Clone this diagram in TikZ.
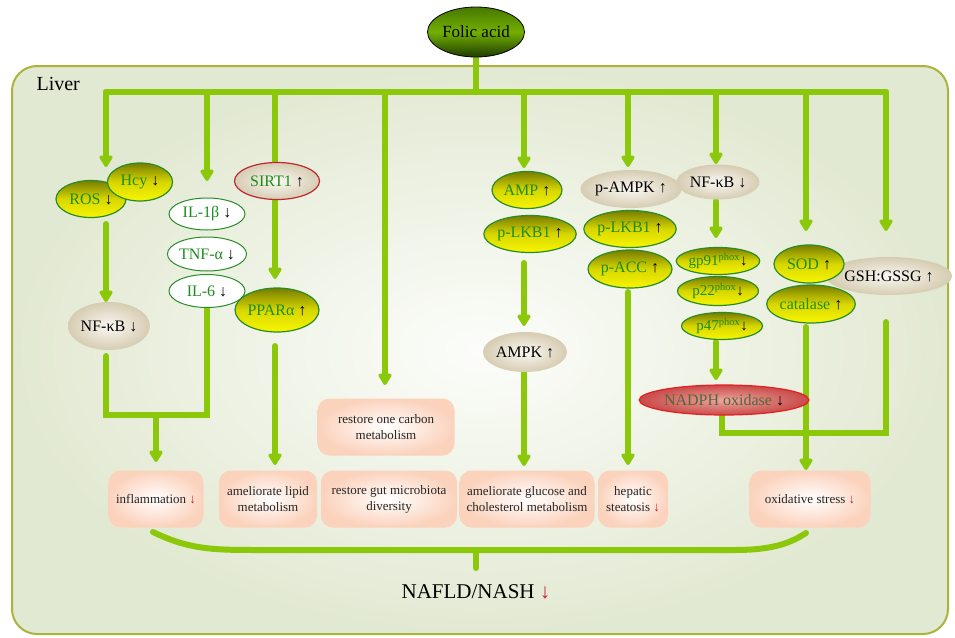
\documentclass[tikz,border=0pt]{standalone}
\usepackage{fontspec}
\setmainfont{Liberation Serif}
\usetikzlibrary{shapes.geometric,arrows.meta}
\pgfdeclarelayer{bg}
\pgfdeclarelayer{lines}
\pgfsetlayers{bg,lines,main}
\definecolor{lg}{RGB}{140,200,10}
\definecolor{gtext}{RGB}{30,140,30}
\definecolor{gborder}{RGB}{40,140,40}
\definecolor{redarrow}{RGB}{200,30,50}
\definecolor{ytop}{RGB}{120,125,0}
\definecolor{ymid}{RGB}{215,215,0}
\definecolor{ybot}{RGB}{248,245,0}
\definecolor{beigein}{RGB}{250,248,242}
\definecolor{beigeout}{RGB}{214,204,178}
\definecolor{peach}{RGB}{251,210,188}
\definecolor{sirtred}{RGB}{190,40,50}
\definecolor{liverin}{RGB}{252,253,250}
\definecolor{liverout}{RGB}{226,233,210}
\definecolor{liverborder}{RGB}{170,180,60}
\definecolor{ftop}{RGB}{70,120,0}
\definecolor{fmid}{RGB}{115,175,0}
\definecolor{fbot}{RGB}{30,60,0}
\definecolor{nadin}{RGB}{238,165,155}
\definecolor{nadout}{RGB}{200,75,75}
\definecolor{nadtext}{RGB}{75,105,65}
\newcommand\dnar{\textcolor{black}{↓}}
\newcommand\upar{\textcolor{black}{↑}}
\newcommand\rdnar{\textcolor{redarrow}{↓}}
\tikzset{
  ell/.style={ellipse, inner sep=0pt, font=\fontsize{16}{18}\selectfont},
  yel/.style={ell, draw=gborder, line width=1.2pt, top color=ytop, bottom color=ybot, middle color=ymid, text=gtext},
  bei/.style={ell, inner color=beigein, outer color=beigeout, text=black},
  whi/.style={ell, draw=gborder, fill=white, line width=1pt, text=gtext},
  pbox/.style={rectangle, rounded corners=12pt, inner color=white, outer color=peach, align=center, font=\fontsize{13}{16}\selectfont, inner sep=0pt, text=black!85},
  conn/.style={draw=lg, line width=6pt, line cap=round},
  arr/.style={conn, -{Triangle[width=15pt,length=13pt,round]}}
}
\begin{document}
\begin{tikzpicture}[x=1pt,y=-1pt]
\useasboundingbox (0,0) rectangle (955,637);
\begin{pgfonlayer}{bg}
\draw[liverborder, line width=2pt, rounded corners=25pt, inner color=liverin, outer color=liverout] (12,66) rectangle (948,634);
\end{pgfonlayer}
\node[anchor=west, font=\fontsize{20}{22}\selectfont] (liver) at (33,84) {Liver};
% top
\node[ell, draw=black, line width=0.8pt, top color=ftop, bottom color=fbot, middle color=fmid, minimum width=97pt, minimum height=50pt, font=\fontsize{17}{19}\selectfont] (folic) at (476,32) {Folic acid};
% left column
\node[yel, minimum width=70pt, minimum height=37pt] (ros) at (91,199) {ROS \dnar};
\node[yel, minimum width=65pt, minimum height=38pt] (hcy) at (140,182) {Hcy \dnar};
\node[bei, minimum width=82pt, minimum height=48pt] (nfk1) at (109,326) {NF-κB \dnar};
\node[whi, minimum width=76pt, minimum height=32pt] (il1) at (207,214) {IL-1β \dnar};
\node[whi, minimum width=76pt, minimum height=34pt] (tnf) at (207,254) {TNF-α \dnar};
\node[whi, minimum width=76pt, minimum height=33pt] (il6) at (207,291) {IL-6 \dnar};
\node[bei, draw=sirtred, line width=1.2pt, text=gtext, minimum width=85pt, minimum height=37pt] (sirt) at (277,181) {SIRT1 \upar};
\node[yel, minimum width=84pt, minimum height=44pt] (ppar) at (277,310) {PPARα \upar};
% middle
\node[yel, minimum width=70pt, minimum height=37pt] (amp) at (527,190) {AMP \upar};
\node[yel, minimum width=83pt, minimum height=37pt] (lkba) at (530,234) {p-LKB1 \upar};
\node[bei, minimum width=84pt, minimum height=40pt] (ampk) at (525,352) {AMPK \upar};
\node[bei, minimum width=94pt, minimum height=38pt] (pampk) at (631,189) {p-AMPK \upar};
\node[yel, minimum width=84pt, minimum height=37pt] (lkbb) at (630,229) {p-LKB1 \upar};
\node[yel, minimum width=84pt, minimum height=38pt] (acc) at (630,269) {p-ACC \upar};
% right
\node[bei, minimum width=83pt, minimum height=35pt] (nfk2) at (718,182) {NF-κB \dnar};
\node[yel, minimum width=83pt, minimum height=27pt, font=\fontsize{15}{17}\selectfont] (gp91) at (718,261) {gp91\textsuperscript{phox}\dnar};
\node[yel, minimum width=81pt, minimum height=29pt, font=\fontsize{15}{17}\selectfont] (p22) at (718,291) {p22\textsuperscript{phox}\dnar};
\node[yel, minimum width=81pt, minimum height=27pt, font=\fontsize{15}{17}\selectfont] (p47) at (722,326) {p47\textsuperscript{phox}\dnar};
\node[ell, draw={rgb,255:red,230;green,30;blue,30}, line width=1.2pt, inner color=nadin, outer color=nadout, text=nadtext, minimum width=154pt, minimum height=30pt] (nadph) at (724,400) {NADPH oxidase \dnar};
\node[bei, minimum width=98pt, minimum height=38pt] (gsh) at (889,276) {GSH:GSSG \upar};
\node[yel, minimum width=70pt, minimum height=38pt] (sod) at (809,264) {SOD \upar};
\node[yel, minimum width=84pt, minimum height=38pt] (cat) at (811,304) {catalase \upar};
% boxes
\node[pbox, minimum width=137pt, minimum height=57pt] (carbon) at (386,427) {restore one carbon\\metabolism};
\node[pbox, minimum width=95pt, minimum height=57pt] (infl) at (156,499) {inflammation \rdnar};
\node[pbox, minimum width=98pt, minimum height=57pt] (lipid) at (268,499) {ameliorate lipid\\metabolism};
\node[pbox, minimum width=136pt, minimum height=57pt] (gut) at (389,499) {restore gut microbiota\\diversity};
\node[pbox, minimum width=135pt, minimum height=57pt] (gluc) at (527,499) {ameliorate glucose and\\cholesterol metabolism};
\node[pbox, minimum width=70pt, minimum height=57pt] (hep) at (633,499) {hepatic\\steatosis \rdnar};
\node[pbox, minimum width=121pt, minimum height=57pt] (ox) at (810,499) {oxidative stress \rdnar};
\node[font=\fontsize{21}{24}\selectfont] (nafld) at (476,592) {NAFLD/NASH \rdnar};
% coordinates
\path (476,92) coordinate (kc)
  (106,92) coordinate (k1) (106,167) coordinate (e1)
  (207,92) coordinate (k2) (207,181) coordinate (e2)
  (275,92) coordinate (k3)
  (385,92) coordinate (k4) (385,385) coordinate (e4)
  (524,92) coordinate (k5) (524,168) coordinate (e5)
  (628,92) coordinate (k6) (628,167) coordinate (e6)
  (716,92) coordinate (k7) (716,164) coordinate (e7)
  (806,92) coordinate (k8) (806,231) coordinate (e8)
  (886,92) coordinate (k9) (886,231) coordinate (e9)
  (106,224) coordinate (r1) (106,302) coordinate (r2)
  (106,356) coordinate (n1) (106,415) coordinate (n2) (207,415) coordinate (n3) (207,308) coordinate (n4)
  (156,415) coordinate (m1) (156,462) coordinate (m2)
  (275,200) coordinate (s1) (275,279) coordinate (s2)
  (275,346) coordinate (s3) (275,465) coordinate (s4)
  (524,263) coordinate (a1) (524,326) coordinate (a2)
  (524,373) coordinate (a3) (524,466) coordinate (a4)
  (628,292) coordinate (c1) (628,465) coordinate (c2)
  (716,201) coordinate (g1) (716,238) coordinate (g2)
  (716,342) coordinate (g3) (716,380) coordinate (g4)
  (722,416) coordinate (h1) (722,433) coordinate (h2) (886,433) coordinate (h3) (886,322) coordinate (h4)
  (806,327) coordinate (o1) (806,470) coordinate (o2)
  (153,532) coordinate (b1) (260,550) coordinate (b2) (735,550) coordinate (b3) (806,533) coordinate (b4)
  (476,550) coordinate (q1) (476,568) coordinate (q2);
\begin{pgfonlayer}{lines}
\draw[conn] (folic.south) -- (kc);
\draw[conn] (k1) -- (k9);
\draw[arr] (k1) -- (e1);
\draw[arr] (k2) -- (e2);
\draw[conn] (k3) -- (k3 |- sirt.north);
\draw[arr] (k4) -- (e4);
\draw[arr] (k5) -- (e5);
\draw[arr] (k6) -- (e6);
\draw[arr] (k7) -- (e7);
\draw[arr] (k8) -- (e8);
\draw[arr] (k9) -- (e9);
\draw[arr] (r1) -- (r2);
\draw[conn, line join=miter] (n1) -- (n2) -- (n3) -- (n4);
\draw[arr] (m1) -- (m2);
\draw[arr] (s1) -- (s2);
\draw[arr] (s3) -- (s4);
\draw[arr] (a1) -- (a2);
\draw[arr] (a3) -- (a4);
\draw[arr] (c1) -- (c2);
\draw[arr] (g1) -- (g2);
\draw[arr] (g3) -- (g4);
\draw[conn, line join=miter] (h1) -- (h2) -- (h3) -- (h4);
\draw[arr] (o1) -- (o2);
\draw[conn] (b1) .. controls (190,550) and (215,550) .. (b2) -- (b3) .. controls (775,550) and (792,542) .. (b4);
\draw[conn] (q1) -- (q2);
\end{pgfonlayer}
\end{tikzpicture}
\end{document}
